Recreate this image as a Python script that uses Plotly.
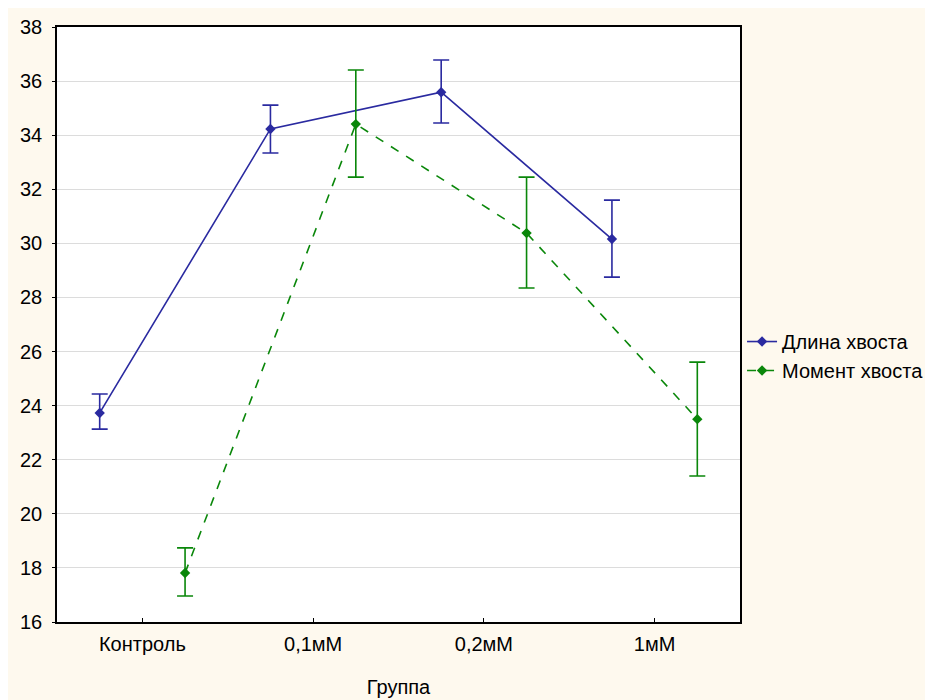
import plotly.graph_objects as go

categories = ["Контроль", "0,1мМ", "0,2мМ", "1мМ"]
cat_pos = [0, 1, 2, 3]

length_mean = [23.73, 34.23, 35.59, 30.16]
length_upper = [24.43, 35.11, 36.78, 31.60]
length_lower = [23.13, 33.34, 34.45, 28.75]

moment_mean = [17.81, 34.41, 30.38, 23.50]
moment_upper = [18.74, 36.41, 32.45, 25.61]
moment_lower = [16.96, 32.45, 28.35, 21.40]

offset = 0.25
blue = "#2A2AA0"
green = "#0A870A"

fig = go.Figure()

fig.add_trace(go.Scatter(
    x=[p - offset for p in cat_pos], y=length_mean,
    mode="lines+markers", name="Длина хвоста",
    line=dict(color=blue, width=1.6),
    marker=dict(symbol="diamond", size=8, color=blue),
    error_y=dict(type="data", symmetric=False,
                 array=[u - m for u, m in zip(length_upper, length_mean)],
                 arrayminus=[m - l for l, m in zip(length_lower, length_mean)],
                 color=blue, thickness=1.6, width=8),
))

fig.add_trace(go.Scatter(
    x=[p + offset for p in cat_pos], y=moment_mean,
    mode="lines+markers", name="Момент хвоста",
    line=dict(color=green, width=1.6, dash="dash"),
    marker=dict(symbol="diamond", size=8, color=green),
    error_y=dict(type="data", symmetric=False,
                 array=[u - m for u, m in zip(moment_upper, moment_mean)],
                 arrayminus=[m - l for l, m in zip(moment_lower, moment_mean)],
                 color=green, thickness=1.6, width=8),
))

font_family = "Liberation Sans, Arial, sans-serif"

fig.update_layout(
    width=933, height=700,
    margin=dict(l=49, r=196, t=19, b=86),
    paper_bgcolor="#FEF9EE",
    plot_bgcolor="white",
    font=dict(family=font_family, size=20, color="black"),
    showlegend=True,
    legend=dict(x=1.003, y=0.447, xanchor="left", yanchor="middle",
                bgcolor="rgba(0,0,0,0)", font=dict(size=20),
                itemwidth=30, tracegroupgap=0),
    xaxis=dict(
        range=[-0.5, 3.5], tickmode="array", tickvals=cat_pos, ticktext=categories,
        showgrid=False, zeroline=False,
        showline=True, linecolor="black", linewidth=1.5, mirror=True,
        ticks="inside", ticklen=4, tickcolor="black",
        ticklabelstandoff=3,
        title=dict(text="Группа", font=dict(size=20), standoff=26),
        automargin=False,
    ),
    yaxis=dict(
        range=[16, 38], dtick=2, tick0=16,
        showgrid=True, gridcolor="#DCDCDC", gridwidth=1, zeroline=False,
        showline=True, linecolor="black", linewidth=1.5, mirror=True,
        ticks="outside", ticklen=3, tickcolor="black",
        ticklabelstandoff=6, automargin=False,
    ),
)

fig.write_html("out.html")
